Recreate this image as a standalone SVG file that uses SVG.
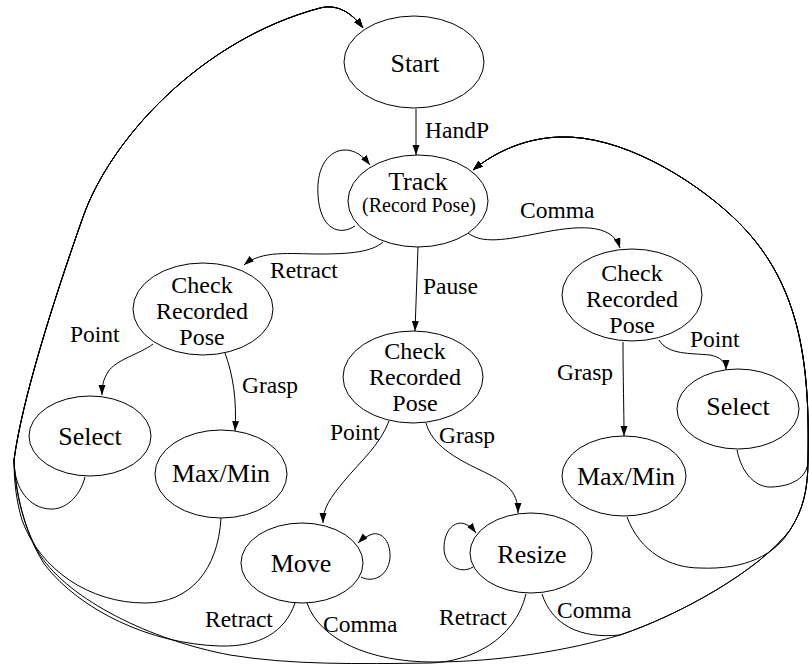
<svg xmlns="http://www.w3.org/2000/svg" width="809" height="664" viewBox="0 0 809 664">
<defs>
<marker id="arr" markerUnits="userSpaceOnUse" markerWidth="11" markerHeight="8" refX="10" refY="3.5" orient="auto">
<path d="M0,0 L10,3.5 L0,7 z" fill="#000"/>
</marker>
<style>
.n ellipse{fill:#fff;stroke:#000;stroke-width:1}
.n text{font-family:"Liberation Serif","Times New Roman",serif;font-size:26px;fill:#000;text-anchor:middle}
.n text.c{font-size:24px}
.n text.s{font-size:20px}
.e path{fill:none;stroke:#000;stroke-width:1}
.e path.a{marker-end:url(#arr)}
.lbl text{font-family:"Liberation Serif","Times New Roman",serif;font-size:23.5px;fill:#000}
</style>
</defs>
<rect width="809" height="664" fill="#fff"/>

<g id="connectors" class="e">
<!-- Start -> Track -->
<path class="a" d="M 416 109 L 416 155"/>
<!-- Track self loop -->
<path class="a" d="M 355 226 C 340 236, 320 230, 318 195 C 316 165, 330 150, 345 150 C 355 150, 363 156, 370 165"/>
<!-- Track -> Check L (Retract) -->
<path class="a" d="M 383 242 C 372 252, 350 254, 320 254 C 290 254, 262 250, 244 265"/>
<!-- Track -> Check M (Pause) -->
<path class="a" d="M 418 247 L 415 331"/>
<!-- Track -> Check R (Comma) -->
<path class="a" d="M 468 233 C 482 244, 505 240, 540 233 C 575 226, 612 222, 620 248"/>
<!-- Check L -> Select L -->
<path class="a" d="M 153 344 C 140 354, 115 360, 108 372 C 103 380, 102 386, 102 395"/>
<!-- Check L -> MaxMin L -->
<path class="a" d="M 225 353 C 233 375, 237 400, 235 431"/>
<!-- Check M -> Move -->
<path class="a" d="M 389 421 C 380 445, 360 462, 345 480 C 330 498, 323 508, 323 523"/>
<!-- Check M -> Resize -->
<path class="a" d="M 426 423 C 432 445, 455 458, 480 470 C 505 482, 518 490, 518 513"/>
<!-- Check R -> MaxMin R -->
<path class="a" d="M 623 342 C 623 380, 624 410, 624 436"/>
<!-- Check R -> Select R -->
<path class="a" d="M 659 340 C 668 355, 690 353, 710 355 C 720 357, 726 362, 726 370"/>
<!-- Move self loop -->
<path class="a" d="M 361 577 C 372 583, 388 577, 390 558 C 391 540, 380 530, 370 535 C 366 537, 362 539, 358 543"/>
<!-- Resize self loop -->
<path class="a" d="M 473 567 C 460 575, 444 565, 444 548 C 444 530, 455 520, 465 524 C 470 526, 473 529, 476 533"/>
<!-- Select L -> Start -->
<path class="a" d="M 85 477 C 80 497, 65 510, 50 509 C 30 508, 14 490, 14 460 C 22 400, 53 302, 83 217 C 110 140, 200 40, 320 8 C 340 3, 354 16, 363 28"/>
<!-- MaxMin L -> Start -->
<path class="a" d="M 221 518 C 218 570, 190 603, 145 603 C 90 603, 40 570, 22 520 C 16 500, 14 480, 14 460 C 22 400, 53 302, 83 217 C 110 140, 200 40, 320 8 C 340 3, 354 16, 363 28"/>
<!-- Move -> Start (Retract) -->
<path class="a" d="M 295 603 C 285 632, 260 647, 220 646 C 150 644, 80 610, 45 565 C 28 540, 16 500, 14 460 C 22 400, 53 302, 83 217 C 110 140, 200 40, 320 8 C 340 3, 354 16, 363 28"/>
<!-- Resize -> Start (Retract) -->
<path class="a" d="M 526 594 C 515 640, 470 662, 430 663 C 360 664, 290 665, 230 655 C 150 640, 70 600, 40 555 C 25 530, 15 495, 14 460 C 22 400, 53 302, 83 217 C 110 140, 200 40, 320 8 C 340 3, 354 16, 363 28"/>
<!-- Select R -> Track -->
<path class="a" d="M 737 450 C 742 475, 757 488, 772 487 C 792 486, 808 478, 808 460 C 810 360, 800 280, 733 217 C 690 177, 620 135, 560 137 C 525 138, 495 152, 473 170"/>
<!-- MaxMin R -> Track -->
<path class="a" d="M 627 517 C 640 552, 670 568, 700 568 C 745 570, 775 555, 790 530 C 803 510, 808 490, 808 460 C 810 360, 800 280, 733 217 C 690 177, 620 135, 560 137 C 525 138, 495 152, 473 170"/>
<!-- Resize -> Track (Comma) -->
<path class="a" d="M 542 594 C 552 625, 580 639, 620 635 C 680 615, 760 570, 790 530 C 803 510, 808 490, 808 460 C 810 360, 800 280, 733 217 C 690 177, 620 135, 560 137 C 525 138, 495 152, 473 170"/>
<!-- Move -> Track (Comma) -->
<path class="a" d="M 307 603 C 320 640, 370 662, 433 662 C 500 662, 570 650, 620 635 C 680 615, 760 570, 790 530 C 803 510, 808 490, 808 460 C 810 360, 800 280, 733 217 C 690 177, 620 135, 560 137 C 525 138, 495 152, 473 170"/>
</g>

<g id="n-start" class="n"><ellipse cx="414" cy="62" rx="70" ry="46"/><text x="415" y="72">Start</text></g>
<g id="n-track" class="n"><ellipse cx="418" cy="201" rx="70" ry="46"/><text x="418" y="190">Track</text><text class="s" x="419" y="212">(Record Pose)</text></g>
<g id="n-check-l" class="n"><ellipse cx="203" cy="309" rx="70" ry="46"/><text class="c" x="202" y="293">Check</text><text class="c" x="202" y="319">Recorded</text><text class="c" x="202" y="345">Pose</text></g>
<g id="n-check-m" class="n"><ellipse cx="413" cy="377" rx="70" ry="46"/><text class="c" x="415" y="359">Check</text><text class="c" x="415" y="385">Recorded</text><text class="c" x="415" y="411">Pose</text></g>
<g id="n-check-r" class="n"><ellipse cx="632" cy="295" rx="70" ry="46"/><text class="c" x="632" y="281">Check</text><text class="c" x="632" y="307">Recorded</text><text class="c" x="632" y="333">Pose</text></g>
<g id="n-select-l" class="n"><ellipse cx="90" cy="436" rx="61" ry="40"/><text x="90" y="445">Select</text></g>
<g id="n-maxmin-l" class="n"><ellipse cx="221" cy="474" rx="66" ry="44"/><text x="221" y="482">Max/Min</text></g>
<g id="n-move" class="n"><ellipse cx="302" cy="563" rx="61" ry="40"/><text x="301" y="572">Move</text></g>
<g id="n-resize" class="n"><ellipse cx="531" cy="553" rx="61" ry="40"/><text x="532" y="563">Resize</text></g>
<g id="n-maxmin-r" class="n"><ellipse cx="624" cy="476" rx="62" ry="40"/><text x="626" y="485">Max/Min</text></g>
<g id="n-select-r" class="n"><ellipse cx="738" cy="409" rx="61" ry="40"/><text x="738" y="415">Select</text></g>

<g id="labels" class="lbl">
<text x="425" y="138">HandP</text>
<text x="270" y="278">Retract</text>
<text x="520" y="218">Comma</text>
<text x="423" y="294">Pause</text>
<text x="70" y="342">Point</text>
<text x="242" y="393">Grasp</text>
<text x="557" y="380">Grasp</text>
<text x="690" y="347">Point</text>
<text x="330" y="440">Point</text>
<text x="439" y="443">Grasp</text>
<text x="205" y="627">Retract</text>
<text x="323" y="632">Comma</text>
<text x="439" y="625">Retract</text>
<text x="557" y="618">Comma</text>
</g>
</svg>
